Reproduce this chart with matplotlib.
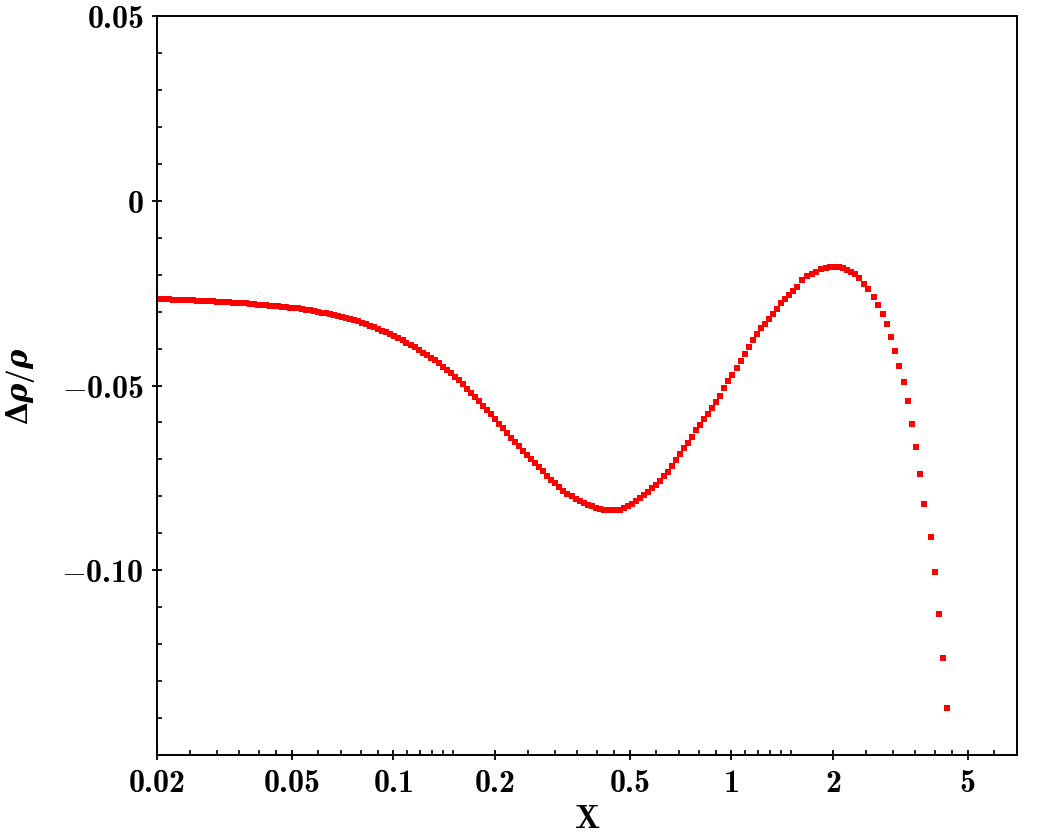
import matplotlib
matplotlib.use("Agg")
import matplotlib.pyplot as plt
from matplotlib.ticker import NullFormatter

plt.rcParams["mathtext.fontset"] = "custom"
plt.rcParams["mathtext.rm"] = "cmb10"
plt.rcParams["mathtext.bf"] = "cmb10"
plt.rcParams["mathtext.sf"] = "DejaVu Serif:bold"
plt.rcParams["mathtext.it"] = "DejaVu Serif:italic:bold"
plt.rcParams["mathtext.fallback"] = "cm"

# data
x = [
    0.02000, 0.02056, 0.02113, 0.02171, 0.02232, 0.02294, 0.02358, 0.02423, 0.02490, 0.02560,
    0.02631, 0.02704, 0.02779, 0.02856, 0.02936, 0.03017, 0.03101, 0.03187, 0.03276, 0.03367,
    0.03460, 0.03557, 0.03655, 0.03757, 0.03861, 0.03969, 0.04079, 0.04192, 0.04309, 0.04429,
    0.04552, 0.04678, 0.04808, 0.04942, 0.05079, 0.05220, 0.05365, 0.05515, 0.05668, 0.05825,
    0.05987, 0.06154, 0.06325, 0.06500, 0.06681, 0.06867, 0.07057, 0.07254, 0.07455, 0.07662,
    0.07875, 0.08094, 0.08319, 0.08550, 0.08788, 0.09032, 0.09283, 0.09541, 0.09806, 0.1008,
    0.1036, 0.1065, 0.1094, 0.1125, 0.1156, 0.1188, 0.1221, 0.1255, 0.1290, 0.1326,
    0.1363, 0.1400, 0.1439, 0.1479, 0.1520, 0.1563, 0.1606, 0.1651, 0.1697, 0.1744,
    0.1792, 0.1842, 0.1893, 0.1946,
    0.2000, 0.2056, 0.2113, 0.2171, 0.2232, 0.2294, 0.2358, 0.2423, 0.2490, 0.2560,
    0.2631, 0.2704, 0.2779, 0.2856, 0.2936, 0.3017, 0.3101, 0.3187, 0.3276, 0.3367,
    0.3460, 0.3557, 0.3655, 0.3757, 0.3861, 0.3969, 0.4079, 0.4192, 0.4309, 0.4429,
    0.4552, 0.4678, 0.4808, 0.4942, 0.5079, 0.5220, 0.5365, 0.5515, 0.5668, 0.5825,
    0.5987, 0.6154, 0.6325, 0.6500, 0.6681, 0.6867, 0.7057, 0.7254, 0.7455, 0.7662,
    0.7875, 0.8094, 0.8319, 0.8550, 0.8788, 0.9032, 0.9283, 0.9541, 0.9806, 1.008,
    1.036, 1.065, 1.094, 1.125, 1.156, 1.188, 1.221, 1.255, 1.290, 1.326,
    1.363, 1.400, 1.439, 1.479, 1.520, 1.563,
    1.619, 1.675, 1.733, 1.785, 1.846, 1.910, 1.963, 2.021, 2.077, 2.141,
    2.200, 2.261, 2.328, 2.392, 2.463, 2.538, 2.644, 2.717, 2.804, 2.895,
    2.969, 3.057, 3.135, 3.235, 3.324, 3.432, 3.527, 3.625, 3.725, 3.888,
    4.007, 4.117, 4.231, 4.357,
]

drho = [
    -0.02667, -0.02667, -0.02670, -0.02670, -0.02673, -0.02675, -0.02678, -0.02683, -0.02689, -0.02694,
    -0.02700, -0.02705, -0.02711, -0.02716, -0.02721, -0.02727, -0.02732, -0.02740, -0.02748, -0.02754,
    -0.02762, -0.02770, -0.02778, -0.02789, -0.02797, -0.02808, -0.02816, -0.02827, -0.02835, -0.02846,
    -0.02857, -0.02868, -0.02878, -0.02889, -0.02900, -0.02911, -0.02927, -0.02946, -0.02965, -0.02984,
    -0.03006, -0.03027, -0.03049, -0.03073, -0.03098, -0.03122, -0.03149, -0.03176, -0.03206, -0.03233,
    -0.03263, -0.03301, -0.03341, -0.03385, -0.03425, -0.03466, -0.03515, -0.03563, -0.03612, -0.03661,
    -0.03710, -0.03777, -0.03842, -0.03907, -0.03970, -0.04040, -0.04110, -0.04181, -0.04246, -0.04322,
    -0.04395, -0.04487, -0.04576, -0.04674, -0.04766, -0.04861, -0.04972, -0.05083, -0.05196, -0.05307,
    -0.05418, -0.05543, -0.05662, -0.05781,
    -0.05911, -0.06036, -0.06160, -0.06285, -0.06409, -0.06534, -0.06648, -0.06764, -0.06878, -0.06992,
    -0.07105, -0.07216, -0.07325, -0.07436, -0.07544, -0.07650, -0.07755, -0.07845, -0.07931, -0.08002,
    -0.08064, -0.08126, -0.08178, -0.08229, -0.08272, -0.08313, -0.08345, -0.08359, -0.08373, -0.08375,
    -0.08370, -0.08356, -0.08321, -0.08267, -0.08202, -0.08126, -0.08048, -0.07961, -0.07872, -0.07785,
    -0.07693, -0.07595, -0.07460, -0.07333, -0.07176, -0.07013, -0.06859, -0.06702, -0.06545, -0.06382,
    -0.06214, -0.06066, -0.05919, -0.05778, -0.05619, -0.05456, -0.05280, -0.05077, -0.04888, -0.04712,
    -0.04530, -0.04341, -0.04143, -0.03953, -0.03777, -0.03615, -0.03452, -0.03331, -0.03195, -0.03060,
    -0.02924, -0.02776, -0.02654, -0.02540, -0.02437, -0.02329,
    -0.02153, -0.02044, -0.01982, -0.01917, -0.01860, -0.01809, -0.01793, -0.01793, -0.01793, -0.01814,
    -0.01871, -0.01928, -0.01990, -0.02090, -0.02248, -0.02377, -0.02605, -0.02822, -0.03054, -0.03336,
    -0.03677, -0.04067, -0.04473, -0.04915, -0.05421, -0.06044, -0.06675, -0.07398, -0.08199, -0.09104,
    -0.10052, -0.11170, -0.12380, -0.13734,
]

xticks = [0.02, 0.05, 0.1, 0.2, 0.5, 1, 2, 5]
xtick_labels = ["0.02", "0.05", "0.1", "0.2", "0.5", "1", "2", "5"]
xminor = [0.025, 0.03, 0.035, 0.04, 0.045, 0.06, 0.07, 0.08, 0.09,
          0.11, 0.12, 0.13, 0.14, 0.15, 0.25, 0.3, 0.35, 0.4, 0.45,
          0.6, 0.7, 0.8, 0.9, 1.1, 1.2, 1.3, 1.4, 1.5,
          2.5, 3, 3.5, 4, 4.5, 6]
yticks = [-0.10, -0.05, 0, 0.05]
ytick_labels = ["-0.10", "-0.05", "0", "0.05"]
yminor = [-0.15, -0.14, -0.13, -0.12, -0.11, -0.09, -0.08, -0.07, -0.06,
          -0.04, -0.03, -0.02, -0.01, 0.01, 0.02, 0.03, 0.04]

fig = plt.figure(figsize=(10.55, 8.34), dpi=100)
ax = fig.add_axes([0.1488, 0.0947, 0.8152, 0.8861])

ax.plot(x, drho, "s", color="red", ms=4.9, mew=0)

ax.set_xscale("log")
ax.set_xlim(0.02, 7)
ax.set_ylim(-0.15, 0.05)

ax.set_xticks(xticks, [r"$%s$" % t for t in xtick_labels])
ax.set_xticks(xminor, minor=True)
ax.xaxis.set_minor_formatter(NullFormatter())
ax.set_yticks(yticks, [r"$%s$" % t for t in ytick_labels])
ax.set_yticks(yminor, minor=True)

ax.tick_params(which="major", direction="inout", length=7, width=1.3,
               labelsize=23, pad=6)
ax.tick_params(which="minor", direction="in", length=3.3, width=1.2)
for s in ax.spines.values():
    s.set_linewidth(1.4)

ax.set_xlabel(r"$\mathrm{X}$", fontsize=24)
ax.set_ylabel(r"$\mathsf{\Delta}\rho/\rho$", fontsize=21)
ax.xaxis.set_label_coords(0.5, -0.064)
ax.yaxis.set_label_coords(-0.139, 0.5)

fig.savefig("out.png", dpi=100)
